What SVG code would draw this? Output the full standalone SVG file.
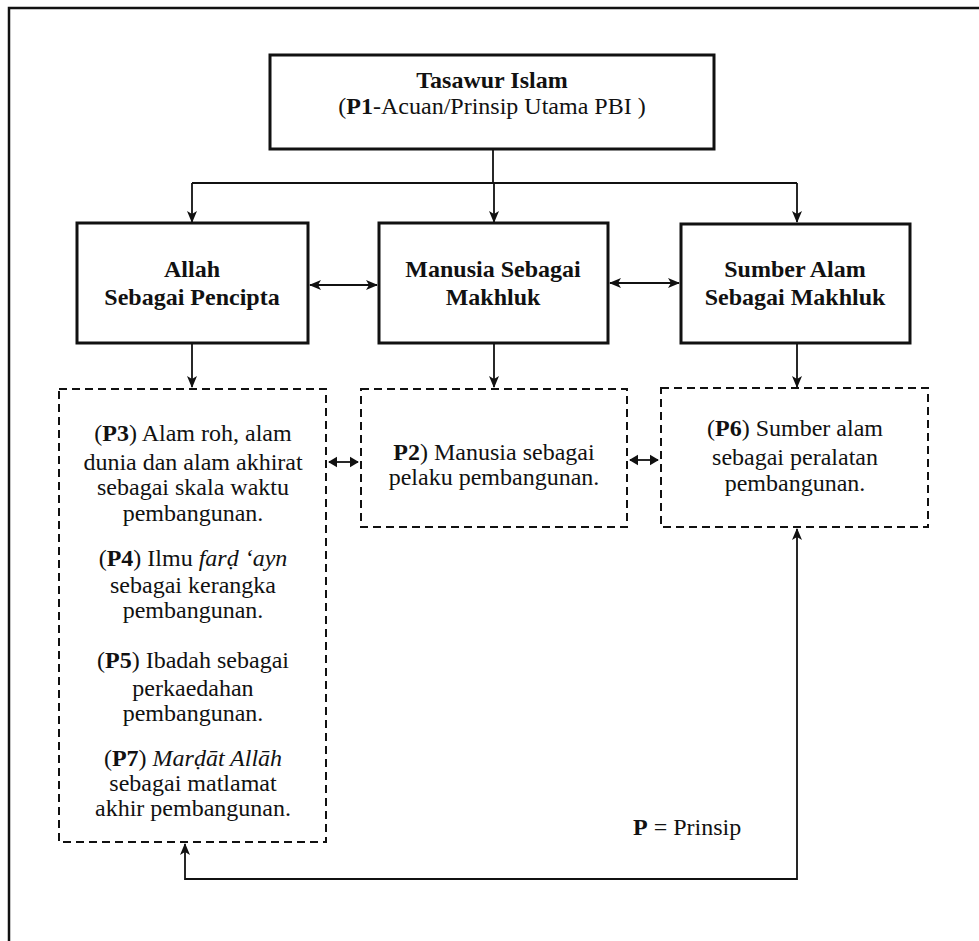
<svg xmlns="http://www.w3.org/2000/svg" width="979" height="941" viewBox="0 0 979 941">
<style>
text{font-family:"Liberation Serif","Times New Roman",serif;font-size:24px;fill:#111;text-anchor:middle}
.b{font-weight:bold}
.i{font-style:italic}
.box{fill:#fff;stroke:#111;stroke-width:3}
.dash{fill:none;stroke:#111;stroke-width:2;stroke-dasharray:8 5}
.ln{fill:none;stroke:#111;stroke-width:1.8}
</style>
<defs>
<marker id="ah" viewBox="0 0 12 10" refX="11" refY="5" markerWidth="12" markerHeight="10" markerUnits="userSpaceOnUse" orient="auto-start-reverse">
<path d="M0,0 L12,5 L0,10 L3,5 z" fill="#111"/>
</marker>
<marker id="sm" viewBox="0 0 10 12" refX="9" refY="6" markerWidth="9" markerHeight="12" markerUnits="userSpaceOnUse" orient="auto-start-reverse">
<path d="M0,0 L10,6 L0,12 z" fill="#111"/>
</marker>
</defs>
<rect width="979" height="941" fill="#fff"/>
<path d="M9,941 V8 H979" fill="none" stroke="#111" stroke-width="2.5"/>

<g id="connectors">
<path class="ln" d="M493,149 V183"/>
<path class="ln" d="M192,183 H797"/>
<path class="ln" d="M192,183 V222" marker-end="url(#ah)"/>
<path class="ln" d="M494,183 V222" marker-end="url(#ah)"/>
<path class="ln" d="M797,183 V222" marker-end="url(#ah)"/>
<path class="ln" d="M310,285 H377" marker-start="url(#ah)" marker-end="url(#ah)"/>
<path class="ln" d="M610,283 H679" marker-start="url(#ah)" marker-end="url(#ah)"/>
<path class="ln" d="M192,344 V387" marker-end="url(#ah)"/>
<path class="ln" d="M494,344 V387" marker-end="url(#ah)"/>
<path class="ln" d="M797,344 V387" marker-end="url(#ah)"/>
<path class="ln" d="M329,462 H358" marker-start="url(#sm)" marker-end="url(#sm)"/>
<path class="ln" d="M630,460 H658" marker-start="url(#sm)" marker-end="url(#sm)"/>
<path class="ln" d="M797,529 V879 H185 V844" marker-start="url(#ah)" marker-end="url(#ah)"/>
</g>

<g id="tasawur">
<rect class="box" x="270" y="55" width="444" height="94"/>
<text class="b" x="492" y="88">Tasawur Islam</text>
<text x="492" y="114">(<tspan class="b">P1</tspan>-Acuan/Prinsip Utama PBI )</text>
</g>

<g id="allah">
<rect class="box" x="77" y="223" width="231" height="120"/>
<text class="b" x="192" y="277">Allah</text>
<text class="b" x="192" y="305">Sebagai Pencipta</text>
</g>

<g id="manusia">
<rect class="box" x="379" y="223" width="229" height="120"/>
<text class="b" x="493" y="277">Manusia Sebagai</text>
<text class="b" x="493" y="305">Makhluk</text>
</g>

<g id="sumber">
<rect class="box" x="681" y="224" width="229" height="119"/>
<text class="b" x="795" y="277">Sumber Alam</text>
<text class="b" x="795" y="305">Sebagai Makhluk</text>
</g>

<g id="prinsip-left">
<rect class="dash" x="59" y="389" width="267" height="453"/>
<text x="193" y="441">(<tspan class="b">P3</tspan>) Alam roh, alam</text>
<text x="193" y="470">dunia dan alam akhirat</text>
<text x="193" y="495">sebagai skala waktu</text>
<text x="193" y="521">pembangunan.</text>
<text x="193" y="566">(<tspan class="b">P4</tspan>) Ilmu <tspan class="i">farḍ ‘ayn</tspan></text>
<text x="193" y="593">sebagai kerangka</text>
<text x="193" y="618">pembangunan.</text>
<text x="193" y="668">(<tspan class="b">P5</tspan>) Ibadah sebagai</text>
<text x="193" y="696">perkaedahan</text>
<text x="193" y="721">pembangunan.</text>
<text x="193" y="766">(<tspan class="b">P7</tspan>) <tspan class="i">Marḍāt Allāh</tspan></text>
<text x="193" y="791">sebagai matlamat</text>
<text x="193" y="816">akhir pembangunan.</text>
</g>

<g id="prinsip-mid">
<rect class="dash" x="361" y="389" width="266" height="138"/>
<text x="494" y="460"><tspan class="b">P2</tspan>) Manusia sebagai</text>
<text x="494" y="485">pelaku pembangunan.</text>
</g>

<g id="prinsip-right">
<rect class="dash" x="661" y="388" width="267" height="139"/>
<text x="795" y="436">(<tspan class="b">P6</tspan>) Sumber alam</text>
<text x="795" y="465">sebagai peralatan</text>
<text x="795" y="491">pembangunan.</text>
</g>

<g id="legend">
<text x="633" y="835" style="text-anchor:start"><tspan class="b">P</tspan> = Prinsip</text>
</g>
</svg>
